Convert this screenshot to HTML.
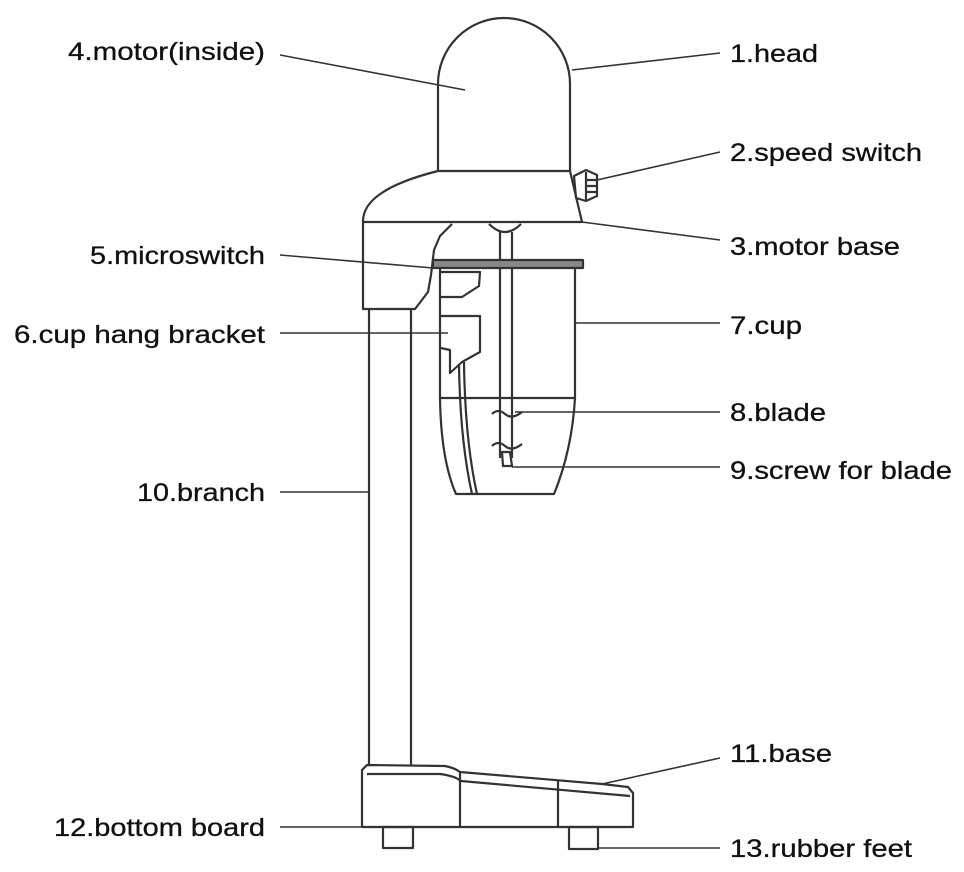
<!DOCTYPE html>
<html><head><meta charset="utf-8"><style>
html,body{margin:0;padding:0;background:#fff;}
svg{display:block}
text{font-family:"Liberation Sans",sans-serif;font-size:25px;fill:#111;stroke:#111;stroke-width:0.3;}
</style></head><body>
<svg width="964" height="872" viewBox="0 0 964 872" xmlns="http://www.w3.org/2000/svg">
<g fill="none" stroke="#333" stroke-width="2.2" stroke-linejoin="round">
<path d="M438,171 L438,84 A66,66 0 0 1 570,84 L570,171"/>
<path d="M438,171 L570,171 L582,222 L363,222 Q362,190 438,171"/>
<path d="M574,176 L586,170 L597,175 L597,196 L586,201 L576,198 Z"/>
<path d="M586,172 L586,200 M586,180 L597,180 M586,186 L597,186 M586,192 L597,192"/>
<path d="M363,222 L363,309 L415,309 L428,292 L431,275 L434,250 L440,236 L452,224"/>
<path d="M369,309 L369,766 M411,309 L411,766"/>
<path d="M489,224 Q505,240 521,224"/>
<path d="M500,232 L500,458 M512,232 L512,458"/>
<rect x="433" y="260" width="150" height="8" fill="#888"/>
<path d="M440,268 L440,398 Q441,460 456,494 L554,494 Q572,450 575,398 L575,268"/>
<path d="M440,398 L575,398"/>
<path d="M441,272 L480,272 L479,286 L462,297 L441,297"/>
<path d="M441,316 L480,316 L480,352 L462,362 L450,373 L450,350 L441,348"/>
<path d="M459,364 Q460,440 472,494 M464,362 Q465,440 477,494"/>
<path d="M492,414 Q498,408 505,414 Q512,420 522,412"/>
<path d="M492,446 Q498,440 505,446 Q512,452 522,444"/>
<path d="M502,452 L510,452 L512,466 L503,466 Z"/>
<path d="M367,765 L445,766 Q455,768 460,772 L602,784 L628,787 L633,793 L633,827 L362,827 L362,770 Z"/>
<path d="M367,774 L440,774 Q455,776 461,781 L630,796"/>
<path d="M460,772 L460,827 M558,780 L558,827"/>
<rect x="383" y="827" width="30" height="21"/>
<rect x="569" y="827" width="29" height="22"/>
</g>
<g stroke="#333" stroke-width="1.6" fill="none">
<path d="M280,55 L465,90"/>
<path d="M572,70 L720,53"/>
<path d="M597,180 L720,152"/>
<path d="M582,222 L720,240"/>
<path d="M280,255 L433,268"/>
<path d="M280,333 L448,333"/>
<path d="M575,323 L720,323"/>
<path d="M515,412 L720,412"/>
<path d="M512,467 L720,467"/>
<path d="M280,492 L369,492"/>
<path d="M602,784 L720,758"/>
<path d="M280,827 L362,827"/>
<path d="M598,848 L720,848"/>
</g>
<g lengthAdjust="spacingAndGlyphs">
<text x="68" y="60" textLength="197" lengthAdjust="spacingAndGlyphs">4.motor(inside)</text>
<text x="90" y="264" textLength="175" lengthAdjust="spacingAndGlyphs">5.microswitch</text>
<text x="14" y="343" textLength="251" lengthAdjust="spacingAndGlyphs">6.cup hang bracket</text>
<text x="137" y="501" textLength="128" lengthAdjust="spacingAndGlyphs">10.branch</text>
<text x="54" y="836" textLength="211" lengthAdjust="spacingAndGlyphs">12.bottom board</text>
<text x="730" y="62" textLength="88" lengthAdjust="spacingAndGlyphs">1.head</text>
<text x="730" y="161" textLength="192" lengthAdjust="spacingAndGlyphs">2.speed switch</text>
<text x="730" y="255" textLength="170" lengthAdjust="spacingAndGlyphs">3.motor base</text>
<text x="730" y="334" textLength="72" lengthAdjust="spacingAndGlyphs">7.cup</text>
<text x="730" y="421" textLength="96" lengthAdjust="spacingAndGlyphs">8.blade</text>
<text x="730" y="479" textLength="222" lengthAdjust="spacingAndGlyphs">9.screw for blade</text>
<text x="730" y="762" textLength="102" lengthAdjust="spacingAndGlyphs">11.base</text>
<text x="730" y="857" textLength="182" lengthAdjust="spacingAndGlyphs">13.rubber feet</text>
</g>
</svg>
</body></html>
